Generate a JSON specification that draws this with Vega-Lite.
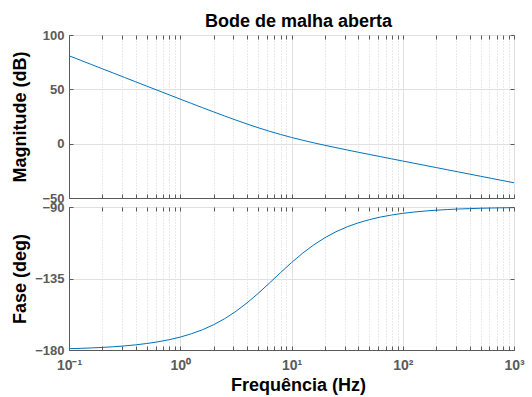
{
  "$schema": "https://vega.github.io/schema/vega-lite/v6.json",
  "padding": {"left": 10, "top": 12, "right": 5, "bottom": 0},
  "background": "white",
  "bounds": "flush",
  "spacing": 9,
  "config": {
    "view": {"stroke": "#5a5a5a", "strokeWidth": 1},
    "axis": {
      "labelFont": "Liberation Sans", "labelFontWeight": "bold", "labelColor": "#5a5a5a", "labelFontSize": 13,
      "titleFont": "Liberation Sans", "titleFontWeight": "bold", "titleFontSize": 18, "titleColor": "#000000",
      "domainColor": "#5a5a5a", "tickColor": "#5a5a5a", "tickSize": -4, "labelPadding": 9,
      "gridColor": "#e0e0e0", "labelFlush": false, "labelOverlap": false
    }
  },
  "datasets": {
    "bode": [
      {"f": 0.1, "mag": 80.90, "phase": -179.18},
      {"f": 0.1259, "mag": 76.90, "phase": -178.97},
      {"f": 0.1585, "mag": 72.90, "phase": -178.70},
      {"f": 0.1995, "mag": 68.91, "phase": -178.37},
      {"f": 0.2512, "mag": 64.91, "phase": -177.95},
      {"f": 0.3162, "mag": 60.91, "phase": -177.41},
      {"f": 0.3981, "mag": 56.92, "phase": -176.75},
      {"f": 0.5012, "mag": 52.92, "phase": -175.90},
      {"f": 0.631, "mag": 48.94, "phase": -174.85},
      {"f": 0.7943, "mag": 44.96, "phase": -173.53},
      {"f": 1, "mag": 40.99, "phase": -171.87},
      {"f": 1.2589, "mag": 37.04, "phase": -169.80},
      {"f": 1.5849, "mag": 33.12, "phase": -167.24},
      {"f": 1.9953, "mag": 29.24, "phase": -164.09},
      {"f": 2.5119, "mag": 25.43, "phase": -160.26},
      {"f": 3.1623, "mag": 21.71, "phase": -155.69},
      {"f": 3.981, "mag": 18.12, "phase": -150.37},
      {"f": 5.0119, "mag": 14.70, "phase": -144.40},
      {"f": 6.3096, "mag": 11.49, "phase": -137.97},
      {"f": 7.9433, "mag": 8.50, "phase": -131.39},
      {"f": 10, "mag": 5.73, "phase": -124.99},
      {"f": 12.589, "mag": 3.17, "phase": -119.08},
      {"f": 15.849, "mag": 0.77, "phase": -113.83},
      {"f": 19.953, "mag": -1.50, "phase": -109.33},
      {"f": 25.119, "mag": -3.68, "phase": -105.57},
      {"f": 31.623, "mag": -5.79, "phase": -102.48},
      {"f": 39.81, "mag": -7.87, "phase": -99.97},
      {"f": 50.119, "mag": -9.92, "phase": -97.95},
      {"f": 63.096, "mag": -11.95, "phase": -96.33},
      {"f": 79.433, "mag": -13.97, "phase": -95.04},
      {"f": 100, "mag": -15.98, "phase": -94.00},
      {"f": 125.89, "mag": -17.99, "phase": -93.18},
      {"f": 158.49, "mag": -19.99, "phase": -92.53},
      {"f": 199.53, "mag": -21.99, "phase": -92.01},
      {"f": 251.19, "mag": -24.00, "phase": -91.60},
      {"f": 316.23, "mag": -26.00, "phase": -91.27},
      {"f": 398.1, "mag": -28.00, "phase": -91.01},
      {"f": 501.19, "mag": -30.00, "phase": -90.80},
      {"f": 630.96, "mag": -32.00, "phase": -90.64},
      {"f": 794.33, "mag": -34.00, "phase": -90.50},
      {"f": 1000, "mag": -36.00, "phase": -90.40}
    ]
  },
  "vconcat": [
    {
      "width": 445, "height": 163,
      "title": {"text": "Bode de malha aberta", "font": "Liberation Sans", "fontSize": 18, "fontWeight": "bold", "color": "#000000", "frame": "group", "anchor": "middle", "offset": -2, "dx": 7},
      "data": {"name": "bode"},
      "layer": [
        {
          "mark": {"type": "line", "color": "#0072BD", "strokeWidth": 1, "clip": true},
          "encoding": {
            "x": {"field": "f", "type": "quantitative", "scale": {"type": "log", "domain": [0.1, 1000], "nice": false},
              "axis": {"orient": "bottom", "values": [0.1,0.2,0.3,0.4,0.5,0.6,0.7,0.8,0.9,1,2,3,4,5,6,7,8,9,10,20,30,40,50,60,70,80,90,100,200,300,400,500,600,700,800,900,1000],
                "labels": false, "title": null, "grid": true,
                "gridDash": {"condition": {"test": "abs(log(datum.value)/LN10 - round(log(datum.value)/LN10)) < 0.01", "value": []}, "value": [1, 2]},
                "gridColor": {"condition": {"test": "abs(log(datum.value)/LN10 - round(log(datum.value)/LN10)) < 0.01", "value": "#e0e0e0"}, "value": "#d4d4d4"}}},
            "y": {"field": "mag", "type": "quantitative", "scale": {"domain": [-50, 100], "nice": false},
              "axis": {"orient": "left", "values": [-50, 0, 50, 100], "title": "Magnitude (dB)", "titleX": -40, "titleY": 81.5, "titleBaseline": "bottom", "grid": true}}
          }
        },
        {
          "mark": {"type": "line", "opacity": 0},
          "encoding": {
            "x": {"field": "f", "type": "quantitative",
              "axis": {"orient": "top", "values": [0.1,0.2,0.3,0.4,0.5,0.6,0.7,0.8,0.9,1,2,3,4,5,6,7,8,9,10,20,30,40,50,60,70,80,90,100,200,300,400,500,600,700,800,900,1000],
                "labels": false, "title": null, "grid": false, "domain": false}},
            "y": {"field": "mag", "type": "quantitative",
              "axis": {"orient": "right", "values": [-50, 0, 50, 100], "labels": false, "title": null, "grid": false, "domain": false}}
          }
        }
      ]
    },
    {
      "width": 445, "height": 143,
      "data": {"name": "bode"},
      "layer": [
        {
          "mark": {"type": "line", "color": "#0072BD", "strokeWidth": 1, "clip": true},
          "encoding": {
            "x": {"field": "f", "type": "quantitative", "scale": {"type": "log", "domain": [0.1, 1000], "nice": false},
              "axis": {"orient": "bottom", "values": [0.1,0.2,0.3,0.4,0.5,0.6,0.7,0.8,0.9,1,2,3,4,5,6,7,8,9,10,20,30,40,50,60,70,80,90,100,200,300,400,500,600,700,800,900,1000],
                "labelExpr": "datum.value == 0.1 ? '10⁻¹' : datum.value == 1 ? '10⁰' : datum.value == 10 ? '10¹' : datum.value == 100 ? '10²' : datum.value == 1000 ? '10³' : ''",
                "labelPadding": 12, "labelFontSize": 14,
                "title": "Frequência (Hz)", "titleX": 229, "titleY": 26, "titleBaseline": "top", "grid": true,
                "gridDash": {"condition": {"test": "abs(log(datum.value)/LN10 - round(log(datum.value)/LN10)) < 0.01", "value": []}, "value": [1, 2]},
                "gridColor": {"condition": {"test": "abs(log(datum.value)/LN10 - round(log(datum.value)/LN10)) < 0.01", "value": "#e0e0e0"}, "value": "#d4d4d4"}}},
            "y": {"field": "phase", "type": "quantitative", "scale": {"domain": [-180, -90], "nice": false},
              "axis": {"orient": "left", "values": [-180, -135, -90], "title": "Fase (deg)", "titleX": -40, "titleY": 71.5, "titleBaseline": "bottom", "grid": true}}
          }
        },
        {
          "mark": {"type": "line", "opacity": 0},
          "encoding": {
            "x": {"field": "f", "type": "quantitative",
              "axis": {"orient": "top", "values": [0.1,0.2,0.3,0.4,0.5,0.6,0.7,0.8,0.9,1,2,3,4,5,6,7,8,9,10,20,30,40,50,60,70,80,90,100,200,300,400,500,600,700,800,900,1000],
                "labels": false, "title": null, "grid": false, "domain": false}},
            "y": {"field": "phase", "type": "quantitative",
              "axis": {"orient": "right", "values": [-180, -135, -90], "labels": false, "title": null, "grid": false, "domain": false}}
          }
        }
      ]
    }
  ]
}
